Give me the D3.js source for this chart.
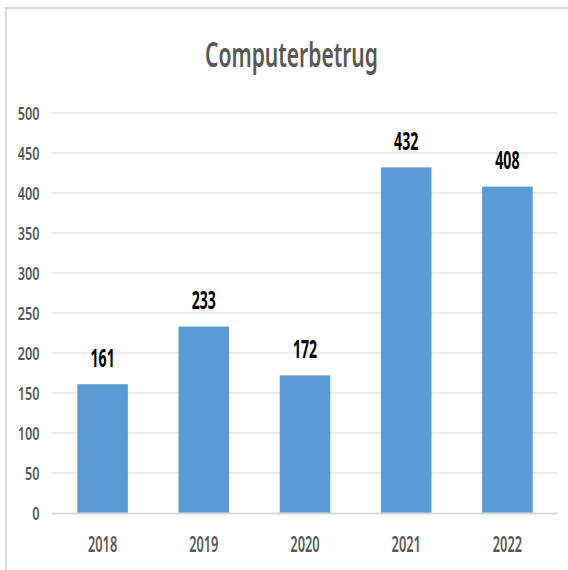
<!DOCTYPE html>
<html><head><meta charset="utf-8">
<script src="https://cdn.jsdelivr.net/npm/d3@7"></script>
<style>body{margin:0;background:#fff}svg{display:block}</style>
</head><body>
<svg id="c" width="568" height="570"></svg>
<script>
const title = "Computerbetrug";
const years = ["2018","2019","2020","2021","2022"];
const values = [161,233,172,432,408];
const yTicks = [0,50,100,150,200,250,300,350,400,450,500];

const svg = d3.select("#c");
const FONT = "'Noto Sans', 'Open Sans', sans-serif";

// frame
svg.append("rect").attr("x",6).attr("y",8).attr("width",620).attr("height",620)
  .attr("fill","none").attr("stroke","#d9d9d9").attr("stroke-width",2);

const x = d3.scaleBand().domain(years).range([52,558]).paddingInner(0.5).paddingOuter(0.25);
const y = d3.scaleLinear().domain([0,500]).range([513,113]);

// gridlines
svg.append("g").selectAll("line").data(yTicks.filter(d=>d>0)).join("line")
  .attr("x1",52).attr("x2",558).attr("y1",d=>y(d)).attr("y2",d=>y(d))
  .attr("stroke","#d9d9d9").attr("stroke-width",1);

// y tick labels
svg.append("g").selectAll("text").data(yTicks).join("text")
  .attr("transform",d=>`translate(39.5,${y(d)+6.5}) scale(0.7,1)`)
  .attr("text-anchor","end").attr("font-family",FONT).attr("font-weight",600)
  .attr("font-size",18.2).attr("fill","#595959").text(d=>d);

// bars
svg.append("g").selectAll("rect").data(values).join("rect")
  .attr("x",(d,i)=>x(years[i])).attr("width",x.bandwidth())
  .attr("y",d=>y(d)).attr("height",d=>y(0)-y(d)).attr("fill","#5B9BD5");

// baseline
svg.append("line").attr("x1",52).attr("x2",558).attr("y1",y(0)+0.5).attr("y2",y(0)+0.5)
  .attr("stroke","#d9d9d9").attr("stroke-width",2);

// value labels
svg.append("g").selectAll("text").data(values).join("text")
  .attr("transform",(d,i)=>`translate(${x(years[i])+x.bandwidth()/2},${y(d)-17.5}) scale(0.57,1)`)
  .attr("text-anchor","middle").attr("font-family",FONT).attr("font-weight",700)
  .attr("font-size",24.8).attr("fill","#000").text(d=>d);

// x labels
svg.append("g").selectAll("text").data(years).join("text")
  .attr("transform",d=>`translate(${x(d)+x.bandwidth()/2},551.7) scale(0.61,1)`)
  .attr("text-anchor","middle").attr("font-family",FONT).attr("font-weight",600)
  .attr("font-size",21).attr("fill","#595959").text(d=>d);

// title
const t = svg.append("text")
  .attr("text-anchor","middle").attr("font-family",FONT).attr("font-weight",600)
  .attr("font-size",34.5).attr("fill","#595959").text(title);
const w = t.node().getComputedTextLength();
const sx = 173 / w;
t.attr("transform",`translate(291.5,67.3) scale(${sx},1)`);
</script>
</body></html>
